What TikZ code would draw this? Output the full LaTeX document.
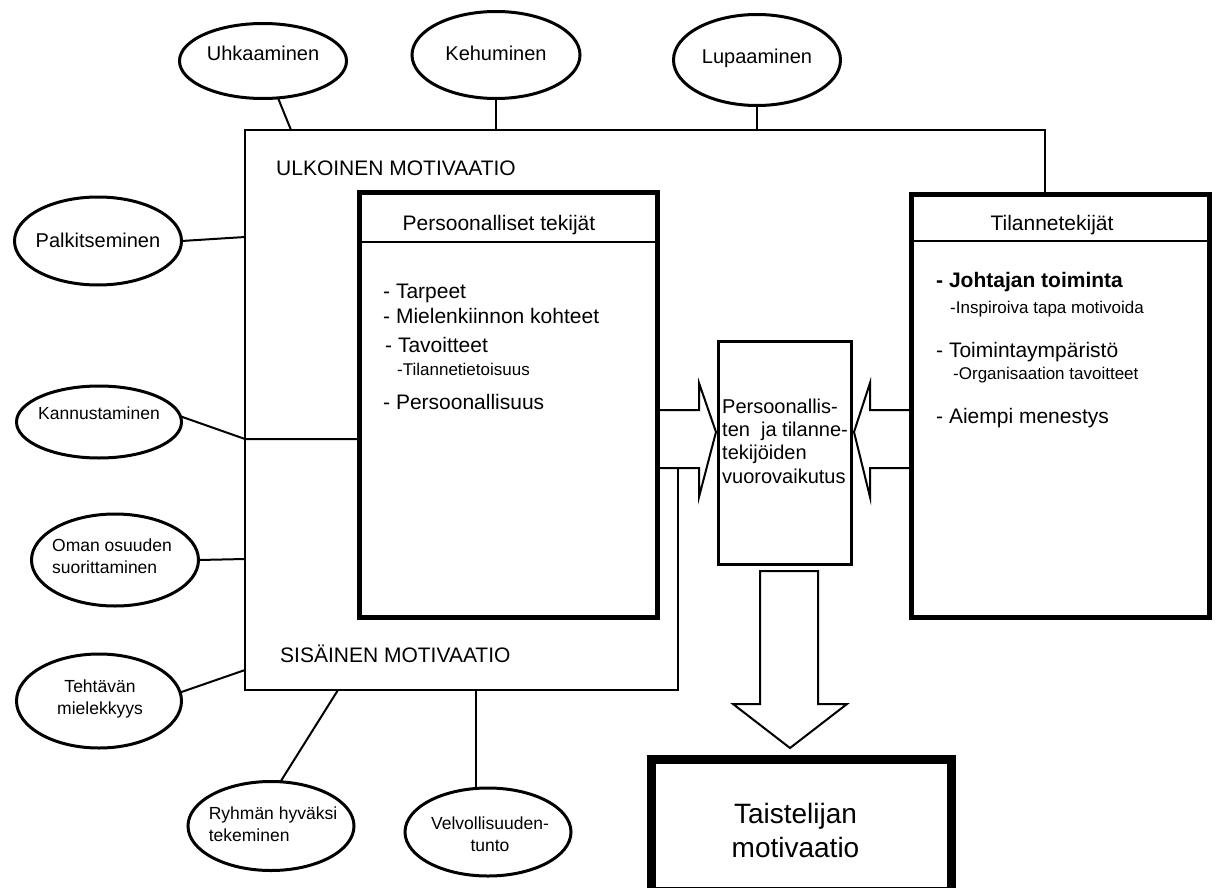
\documentclass[tikz,border=0pt]{standalone}
\usepackage{fontspec}
\setmainfont{Liberation Sans}
\usetikzlibrary{shapes.geometric}
\begin{document}
\begin{tikzpicture}[x=1pt,y=-1pt,
  oval/.style={ellipse, draw, line width=3pt, inner sep=0pt, outer sep=0pt},
  lab20/.style={font=\fontsize{20}{23}\selectfont, inner sep=0pt},
  lab17/.style={font=\fontsize{17.5}{22}\selectfont, inner sep=0pt},
  conn/.style={line width=2pt},
  bigbox/.style={draw, line width=5pt, inner sep=0pt, outer sep=0pt},
  item/.style={anchor=base west, inner sep=0pt, font=\fontsize{21}{24}\selectfont},
  subitem/.style={anchor=base west, inner sep=0pt, font=\fontsize{17}{20}\selectfont},
  midtext/.style={anchor=base west, inner sep=0pt, font=\fontsize{20}{23}\selectfont},
  headtext/.style={anchor=base, inner sep=0pt, font=\fontsize{21}{24}\selectfont},
  blockarrow/.style={line width=2pt, line join=miter},
]
\useasboundingbox (0,0) rectangle (1220,888);
\fill[white] (0,0) rectangle (1220,888);

% ---------- main boxes ----------
\node[bigbox, minimum width=298pt, minimum height=425pt] (pers) at (508.5,405) {};
\node[bigbox, minimum width=298pt, minimum height=423pt] (tila) at (1060.5,406) {};
\node[draw, line width=3pt, inner sep=0pt, outer sep=0pt, minimum width=133pt, minimum height=222.5pt] (mid) at (785,452.75) {};
\node[draw, line width=9pt, inner sep=0pt, outer sep=0pt, minimum width=300pt, minimum height=132pt,
      label={[font=\fontsize{28}{34}\selectfont, align=center, inner sep=0pt, yshift=-5pt, xshift=-6pt]center:Taistelijan\\motivaatio}] (tais) at (801.5,825) {};

% header dividers
\draw[conn] (pers.west |- 0,242) -- (pers.east |- 0,242);
\draw[conn] (tila.west |- 0,241) -- (tila.east |- 0,241);

% outer motivation frame
\coordinate (tl) at (245,130);
\coordinate (bl) at (245,690);
\coordinate (br) at (678,690);
\draw[conn] (tila.north -| 1045,0) -- (1045,130) -- (tl) -- (bl) -- (br) -- (678,468);

\node[anchor=base west, inner sep=0pt, font=\fontsize{21}{24}\selectfont] (ulk) at (276,175) {ULKOINEN MOTIVAATIO};
\node[anchor=base west, inner sep=0pt, font=\fontsize{21}{24}\selectfont] (sis) at (280,662) {SISÄINEN MOTIVAATIO};

% ---------- box texts ----------
\node[headtext] (persh) at (499,230) {Persoonalliset tekijät};
\node[item] (p1) at (383,298) {- Tarpeet};
\node[item] (p2) at (383,323) {- Mielenkiinnon kohteet};
\node[item] (p3) at (385,352) {- Tavoitteet};
\node[subitem] (p4) at (397,375) {-Tilannetietoisuus};
\node[item] (p5) at (383,409) {- Persoonallisuus};

\node[headtext] (tilah) at (1052,230) {Tilannetekijät};
\node[item] (t1) at (936,287) {\bfseries - Johtajan toiminta};
\node[subitem] (t2) at (950,313) {-Inspiroiva tapa motivoida};
\node[item] (t3) at (936,357) {- Toimintaympäristö};
\node[subitem] (t4) at (953,379) {-Organisaation tavoitteet};
\node[item] (t5) at (936,423) {- Aiempi menestys};

\node[midtext] (m1) at (722,413) {Persoonallis-};
\node[midtext] (m2) at (722,436) {ten\ \ ja tilanne-};
\node[midtext] (m3) at (722,459) {tekijöiden};
\node[midtext] (m4) at (722,483) {vuorovaikutus};

% ---------- block arrows ----------
\draw[blockarrow] (pers.east |- 0,410) -- (699,410) -- (699,383) -- (716,432) -- (699,497) -- (699,468) -- (pers.east |- 0,468);
\draw[blockarrow] (tila.west |- 0,410) -- (870,410) -- (870,383) -- (854,432) -- (870,497) -- (870,468) -- (tila.west |- 0,468);
\draw[blockarrow] (760,571) -- (818,571) -- (818,704) -- (847,704) -- (790,748) -- (733,704) -- (760,704) -- cycle;

% ---------- ellipses ----------
\node[oval, minimum width=167pt, minimum height=75pt, label={[lab20,yshift=8pt]center:Uhkaaminen}] (uhk) at (263,61) {};
\node[oval, minimum width=168pt, minimum height=87pt, label={[lab20,yshift=2pt]center:Kehuminen}] (keh) at (496,55) {};
\node[oval, minimum width=167pt, minimum height=91pt, label={[lab20,yshift=2pt]center:Lupaaminen}] (lup) at (757,60) {};
\node[oval, minimum width=167pt, minimum height=88pt, label={[lab20,yshift=1pt]center:Palkitseminen}] (palk) at (98,241) {};
\node[oval, minimum width=165pt, minimum height=72pt, label={[lab17,yshift=9pt]center:Kannustaminen}] (kan) at (99,422) {};
\node[oval, minimum width=167pt, minimum height=92pt, label={[lab17,align=left,yshift=4pt,xshift=-3pt]center:Oman osuuden\\suorittaminen}] (oman) at (115,560) {};
\node[oval, minimum width=165pt, minimum height=94pt, label={[lab17,align=center,yshift=2pt,xshift=1pt]center:Tehtävän\\mielekkyys}] (teht) at (99,701) {};
\node[oval, minimum width=166pt, minimum height=89pt, label={[lab17,align=left,yshift=1.5pt,xshift=2pt]center:Ryhmän hyväksi\\tekeminen}] (ryh) at (271,826) {};
\node[oval, minimum width=166pt, minimum height=88pt, label={[lab17,align=center,yshift=-2pt,xshift=2pt]center:Velvollisuuden-\\tunto}] (vel) at (488,832) {};

% ---------- connectors ----------
\draw[conn] (uhk) -- (291,130);
\draw[conn] (keh) -- (496,130);
\draw[conn] (lup) -- (757,130);
\draw[conn] (palk.east) -- (245,237);
\coordinate (kanj) at (245,439);
\draw[conn] (kan.4) -- (kanj) -- (kanj -| pers.west);
\draw[conn] (oman.east) -- (245,559);
\draw[conn] (teht.6) -- (245,670);
\draw[conn] (ryh.78) -- (338,690);
\draw[conn] (vel.105) -- (vel.105 |- br);
\end{tikzpicture}
\end{document}
